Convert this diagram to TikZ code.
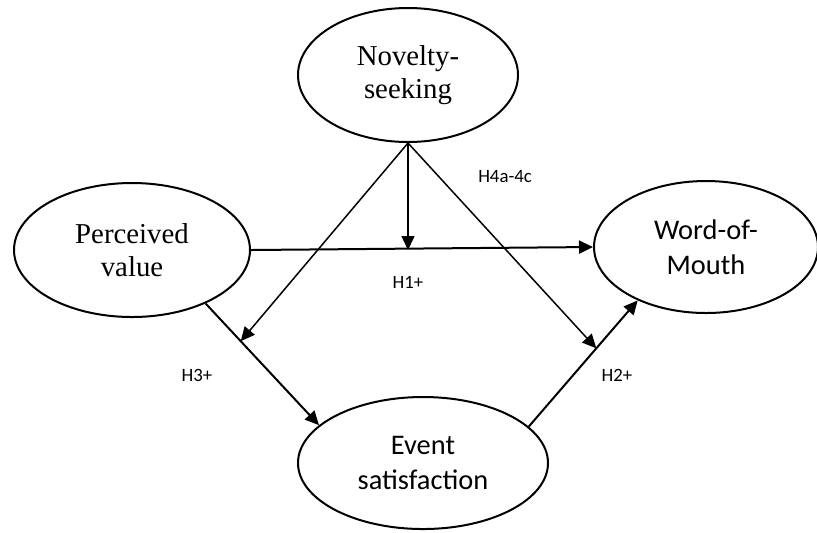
\documentclass[tikz,border=0pt]{standalone}
\usepackage{fontspec}
\setmainfont{Liberation Serif}
\newfontfamily\carlito{Carlito}
\usetikzlibrary{arrows.meta}
\usetikzlibrary{backgrounds}
\usetikzlibrary{calc}
\usetikzlibrary{shapes,shapes.geometric}
\pgfdeclarelayer{edgelayer}
\pgfdeclarelayer{nodelayer}
\pgfsetlayers{background,edgelayer,nodelayer,main}
\tikzstyle{none}=[inner sep=0mm]
\tikzstyle{construct}=[draw=black,line width=1pt,shape=ellipse,align=center,inner sep=0pt]
\tikzstyle{serif construct}=[construct,font=\fontsize{14.4}{16.5}\selectfont]
\tikzstyle{sans construct}=[construct,font=\carlito\fontsize{14.2}{17.5}\selectfont]
\tikzstyle{hyp}=[none,font=\carlito\fontsize{9.4}{11}\selectfont]
\tikzstyle{effect}=[line width=1pt,-{Triangle[length=7pt,width=6.5pt]}]
\tikzstyle{moderate}=[line width=0.75pt,-{Triangle[length=7pt,width=6.5pt]}]

\begin{document}
\begin{tikzpicture}[x=0.5pt,y=-0.5pt]
	\useasboundingbox (0,0) rectangle (817,532);
	\begin{pgfonlayer}{nodelayer}
		\node [style=serif construct,minimum width=110pt,minimum height=67pt] (ns) at (408, 75) {Novelty-\\seeking};
		\node [style=serif construct,minimum width=118pt,minimum height=67pt] (pv) at (132, 250) {Perceived\\value};
		\node [style=sans construct,minimum width=112pt,minimum height=66pt] (wom) at (706, 247) {Word-of-\\Mouth};
		\node [style=sans construct,minimum width=125pt,minimum height=66pt] (es) at (423, 463) {Event\\satisfaction};
		\node [style=hyp] (h4) at (505, 177) {H4a-4c};
		\node [style=hyp] (h1) at (408, 282) {H1+};
		\node [style=hyp] (h3) at (197, 375) {H3+};
		\node [style=hyp] (h2) at (617, 375) {H2+};
	\end{pgfonlayer}
	\coordinate (m1) at (ns.south |- pv.east);
	\coordinate (m3) at ($(pv.-36)!0.31!(es.160)$);
	\coordinate (m2) at ($(es.19)!0.62!(wom.218)$);
	\begin{pgfonlayer}{edgelayer}
		\draw [style=effect] (pv.east) -- (wom.west);
		\draw [style=effect] (pv.-36) -- (es.160);
		\draw [style=effect] (es.19) -- (wom.218);
		\draw [style=moderate] (ns.south) -- (m1);
		\draw [style=moderate] (ns.south) -- (m3);
		\draw [style=moderate] (ns.south) -- (m2);
	\end{pgfonlayer}
\end{tikzpicture}
\end{document}
